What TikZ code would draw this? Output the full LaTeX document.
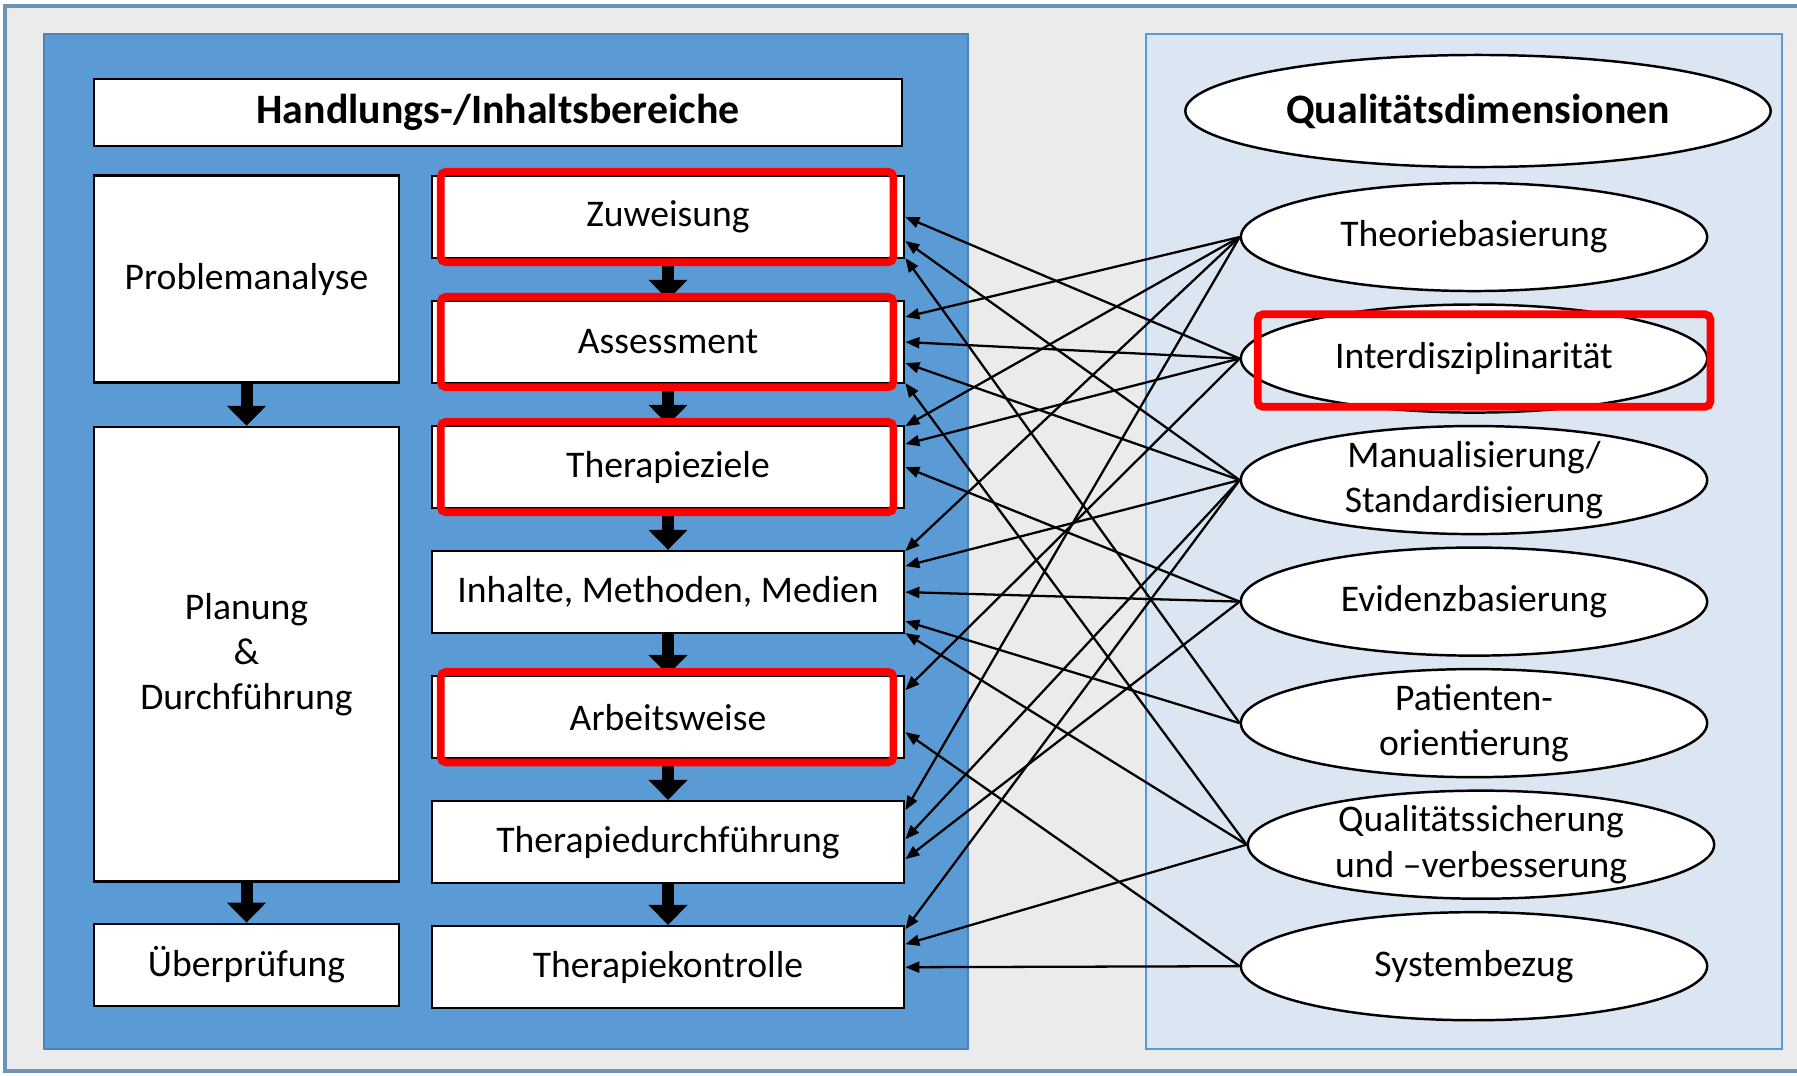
\documentclass[tikz,border=0pt]{standalone}
\usepackage{fontspec}
\setmainfont{Carlito}
\usepackage{xcolor}
\usetikzlibrary{positioning,shapes.geometric,arrows.meta,calc}

\definecolor{panelblue}{HTML}{5B9BD5}
\definecolor{panellight}{HTML}{DCE6F2}
\definecolor{framegray}{HTML}{EBEBEB}
\definecolor{frameline}{HTML}{6D94B8}
\definecolor{markred}{HTML}{FF0000}

\begin{document}
\begin{tikzpicture}[
  x=0.01cm, y=-0.01cm,
  every node/.style={font=\fontsize{10.7}{12.8}\selectfont},
  field/.style={draw, line width=0.7pt, fill=white, align=center, inner sep=2pt},
  stage/.style={field, minimum width=4.72cm, minimum height=0.82cm},
  phase/.style={field, minimum width=3.05cm},
  dim/.style={draw, ellipse, line width=0.7pt, fill=white, align=center,
              inner xsep=0pt, inner ysep=-2pt,
              minimum width=4.66cm, minimum height=1.08cm},
  title/.style={font=\fontsize{11.9}{14}\selectfont\bfseries},
  flow/.style={-{Triangle[width=0.38cm,length=0.2cm]}, line width=0.12cm},
  link/.style={-{Triangle[width=0.11cm,length=0.14cm]}, line width=0.65pt},
  hilite/.style={draw=markred, line width=2.2pt, rounded corners=1.5pt},
  node distance=0.405cm
]

%% --- Background and panels -----------------------------------
\useasboundingbox (0,0) rectangle (1797,1075);
\fill[white] (0,0) rectangle (1797,1075);
\draw[frameline, fill=framegray, line width=1pt] (5,6) rectangle (1815,1071);
\draw[panelblue!85!black, fill=panelblue, line width=0.6pt] (44,34) rectangle (968,1049);
\draw[panelblue, fill=panellight, line width=0.8pt] (1146,34) rectangle (1782,1049);

%% --- Left: Handlungs-/Inhaltsbereiche ------------------------
\node[field, title, minimum width=8.08cm, minimum height=0.67cm] (head)
     at (498,112.5) {Handlungs-/Inhaltsbereiche};

\node[stage] (zuw) at (668,217) {Zuweisung};
\node[stage, below=of zuw]   (ass)   {Assessment};
\node[stage, below=of ass]   (ziel)  {Therapieziele};
\node[stage, below=of ziel]  (inh)   {Inhalte, Methoden, Medien};
\node[stage, below=of inh]   (arb)   {Arbeitsweise};
\node[stage, below=of arb]   (durch) {Therapiedurchführung};
\node[stage, below=of durch] (kontr) {Therapiekontrolle};

\node[phase, minimum height=2.07cm] (prob) at (246.5,279) {Problemanalyse};
\node[phase, minimum height=4.54cm, below=0.42cm of prob] (plan)
     {Planung\\\&\\Durchführung};
\node[phase, minimum height=0.82cm, below=0.40cm of plan] (pruef) {Überprüfung};

\foreach \a/\b in {zuw/ass, ass/ziel, ziel/inh, inh/arb, arb/durch,
                   durch/kontr, prob/plan, plan/pruef}
  \draw[flow] (\a) -- (\b);

%% --- Right: Qualitaetsdimensionen -----------------------------
\node[dim, title, minimum width=5.85cm, minimum height=1.12cm] (qhead)
     at (1478,111) {Qualitätsdimensionen};

\node[dim] (theo) at (1474,237) {Theoriebasierung};
\node[dim, below=0.11cm of theo]   (inter)  {Interdisziplinarität};
\node[dim, below=0.11cm of inter]  (manual) {Manualisierung/\\Standardisierung};
\node[dim, below=0.11cm of manual] (evid)   {Evidenzbasierung};
\node[dim, below=0.11cm of evid]   (pat)    {Patienten-\\orientierung};
\node[dim, below=0.11cm of pat, xshift=0.07cm] (qs)
     {Qualitätssicherung\\und –verbesserung};
\node[dim, below=0.11cm of qs, xshift=-0.07cm] (sys) {Systembezug};

%% --- Connections: dimension -> area ---------------------------
\foreach \s/\t/\d in {theo/ass/0.25, theo/ziel/0.41, theo/inh/0.41, theo/durch/0.32,
                      inter/zuw/0, inter/ass/0, inter/ziel/0.23, inter/arb/0.27,
                      manual/zuw/-0.24, manual/ass/-0.21, manual/inh/0.26,
                      manual/durch/0.03, manual/kontr/0.38,
                      evid/ziel/0, evid/inh/0, evid/durch/-0.17,
                      pat/zuw/-0.41, pat/inh/-0.29,
                      qs/ass/-0.41, qs/inh/-0.41, qs/kontr/0.23,
                      sys/arb/-0.15, sys/kontr/0}
  \draw[link] (\s.west) -- ([yshift=\d cm]\t.east);

%% --- Red highlights -------------------------------------------
\foreach \n in {zuw, ass, ziel, arb}
  \draw[hilite] ([xshift=0.1cm,yshift=0.03cm]\n.north west)
        rectangle ([xshift=-0.12cm,yshift=-0.03cm]\n.south east);
\draw[hilite] ($(inter.west |- inter.north)+(18,11)$)
      rectangle ($(inter.east |- inter.south)+(2,-7)$);

\end{tikzpicture}
\end{document}
